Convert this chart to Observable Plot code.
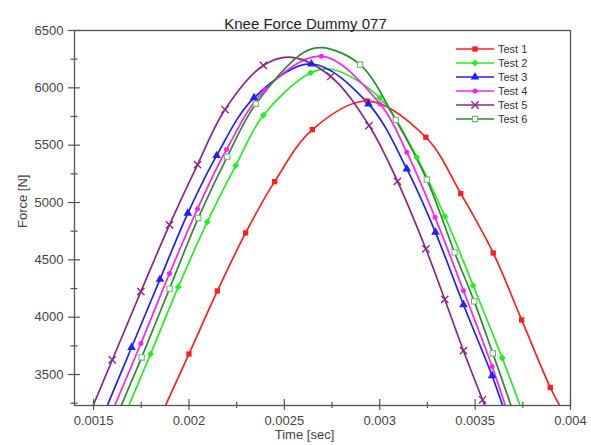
<!DOCTYPE html>
<html><head><meta charset="utf-8">
<script src="https://cdn.jsdelivr.net/npm/d3@7"></script>
<script src="https://cdn.jsdelivr.net/npm/@observablehq/plot@0.6"></script>
<style>
body{margin:0;background:#fff;}
#chart{width:591px;height:445px;}
</style></head><body><div id="chart"></div>
<script>
const title = "Knee Force Dummy 077";
const xTitle = "Time [sec]";
const yTitle = "Force [N]";
const series = ["Test 1","Test 2","Test 3","Test 4","Test 5","Test 6"];
const lineColors = ["#ff1f1f","#22ee22","#1f1fff","#ff22ff","#8a268a","#2b8c2b"];
const symbols = ["square","diamond2","triangle","circle","times","square"];

const xMajor = [0.0015,0.002,0.0025,0.003,0.0035,0.004];
const xLabels = ["0.0015","0.002","0.0025","0.003","0.0035","0.004"];
const xMinor = [0.00175,0.00225,0.00275,0.00325,0.00375];
const yMajor = [3500,4000,4500,5000,5500,6000,6500];
const yLabels = ["3500","4000","4500","5000","5500","6000","6500"];
const yMinor = [3250,3750,4250,4750,5250,5750,6250];

// time [s], force [N], marker flag
const t1 = [0.001877,0.0020,0.002149,0.002297,0.002449,0.002647,0.002936,0.003242,0.003425,0.003595,0.003744,0.003894,0.003943];
const f1 = [3230,3679,4229,4735,5182,5636,5885,5569,5078,4560,3976,3387,3230];
const m1 = [0,1,1,1,1,1,1,1,1,1,1,1,0];
const t2 = [0.001685,0.001799,0.001944,0.002096,0.002245,0.00239,0.002638,0.002754,0.003,0.003194,0.003341,0.00349,0.003642,0.003736];
const f2 = [3230,3679,4264,4831,5322,5761,6131,6160,5913,5394,4880,4275,3644,3230];
const m2 = [0,1,1,1,1,1,1,0,1,1,1,1,1,0];
const t3 = [0.001572,0.001699,0.001848,0.001994,0.002145,0.002341,0.002642,0.002941,0.003142,0.003292,0.003439,0.003589,0.003644];
const f3 = [3230,3736,4330,4906,5409,5913,6208,5860,5293,4740,4109,3490,3230];
const m3 = [0,1,1,1,1,1,1,1,1,1,1,1,0];
const t4 = [0.001611,0.001748,0.001898,0.002045,0.002197,0.002398,0.002694,0.003002,0.003142,0.00329,0.003439,0.003589,0.003658];
const f4 = [3230,3771,4380,4944,5462,5983,6276,5860,5438,4871,4231,3571,3230];
const m4 = [0,1,1,1,1,1,1,1,1,1,1,1,0];
const t5 = [0.001498,0.001598,0.001748,0.001898,0.002045,0.002189,0.00239,0.00254,0.002743,0.002944,0.003093,0.003242,0.003341,0.003439,0.003539,0.003551];
const f5 = [3230,3627,4223,4805,5331,5811,6195,6266,6099,5671,5185,4595,4155,3708,3280,3230];
const m5 = [0,1,1,1,1,1,1,0,1,1,1,1,1,1,1,0];
const t6 = [0.001645,0.001752,0.001898,0.002049,0.002201,0.00235,0.002601,0.0027,0.002897,0.003084,0.003247,0.003392,0.003495,0.003593,0.003688];
const f6 = [3230,3649,4249,4866,5401,5860,6308,6350,6203,5720,5200,4565,4138,3684,3230];
const m6 = [0,1,1,1,1,1,0,0,1,1,1,1,1,1,0];

const T = [t1,t2,t3,t4,t5,t6], F = [f1,f2,f3,f4,f5,f6], M = [m1,m2,m3,m4,m5,m6];
const rows = [];
T.forEach((ts, s) => ts.forEach((t, i) => rows.push({series: series[s], t, f: F[s][i], m: M[s][i]})));

const mFill = ["#ff1f1f","#22ee22","#1f1fff","#ff22ff","none","#ffffff"];
const mStroke = ["none","none","none","none","#8a268a","#6fb86f"];
const mR = [3.0,3.1,3.2,2.5,3.4,3.0];
const mSW = [1,1,1,1,1.4,1.1];

const font = "Liberation Sans, Arial, Helvetica, sans-serif";
const axisColor = "#555";
const textColor = "#444";

const lines = series.map((s, i) => Plot.line(rows.filter(d => d.series === s), {
  x: "t", y: "f", stroke: lineColors[i], strokeWidth: 1.7, curve: "catmull-rom", clip: true
}));
const dots = series.map((s, i) => Plot.dot(rows.filter(d => d.series === s && d.m), {
  x: "t", y: "f", symbol: symbols[i], r: mR[i], fill: mFill[i], stroke: mStroke[i], strokeWidth: mSW[i], clip: true
}));

const plot = Plot.plot({
  width: 591, height: 445,
  marginTop: 30, marginBottom: 40, marginLeft: 74, marginRight: 21,
  style: {fontFamily: font, fontSize: "13px", background: "#fff", overflow: "visible"},
  x: {domain: [0.0014, 0.004], label: null},
  y: {domain: [3230, 6500], label: null},
  marks: [
    ...lines,
    ...dots,
    Plot.frame({stroke: axisColor, strokeWidth: 1.3}),
    Plot.axisX(xMajor, {tickSize: 11, dy: -6, fill: "none", stroke: axisColor, strokeWidth: 1.2, label: null}),
    Plot.axisX(xMinor, {tickSize: 6, dy: -3, fill: "none", stroke: axisColor, strokeWidth: 1.2, label: null}),
    Plot.axisX(xMajor, {tickSize: 0, tickPadding: 10, tickFormat: d => xLabels[xMajor.indexOf(d)], fill: textColor, fontSize: 13, label: null}),
    Plot.axisY(yMajor, {tickSize: 12, dx: 6, fill: "none", stroke: axisColor, strokeWidth: 1.2, label: null}),
    Plot.axisY(yMinor, {tickSize: 7, dx: 3.5, fill: "none", stroke: axisColor, strokeWidth: 1.2, label: null}),
    Plot.axisY(yMajor, {tickSize: 0, tickPadding: 11, tickFormat: d => yLabels[yMajor.indexOf(d)], fill: textColor, fontSize: 13, label: null}),
    Plot.text([title], {text: d => d, frameAnchor: "top", dx: -17, dy: -12, fontSize: 15, fill: "#222"}),
    Plot.text([xTitle], {text: d => d, frameAnchor: "bottom", dx: -18, dy: 33, fontSize: 13, fill: textColor}),
    Plot.text([yTitle], {text: d => d, frameAnchor: "left", dx: -52, dy: 10, rotate: -90, fontSize: 13, fill: textColor})
  ]
});
document.getElementById("chart").appendChild(plot);

// legend
const symMap = {square: d3.symbolSquare, diamond2: d3.symbolDiamond2, triangle: d3.symbolTriangle, circle: d3.symbolCircle, times: d3.symbolTimes};
const svg = d3.select(plot);
const lg = svg.append("g").attr("font-family", font).attr("font-size", 11).attr("text-anchor", "start");
series.forEach((s, i) => {
  const y = 49 + i * 14;
  const g = lg.append("g").attr("transform", `translate(0,${y})`);
  g.append("line").attr("x1", 456).attr("x2", 494).attr("y1", 0).attr("y2", 0)
    .attr("stroke", lineColors[i]).attr("stroke-width", 1.7);
  g.append("path").attr("transform", "translate(475,0)")
    .attr("d", d3.symbol(symMap[symbols[i]], Math.PI * mR[i] * mR[i])())
    .attr("fill", mFill[i]).attr("stroke", mStroke[i]).attr("stroke-width", mSW[i]);
  g.append("text").attr("x", 498).attr("y", 4).attr("text-anchor", "start").attr("fill", "#333").text(s);
});
</script></body></html>
